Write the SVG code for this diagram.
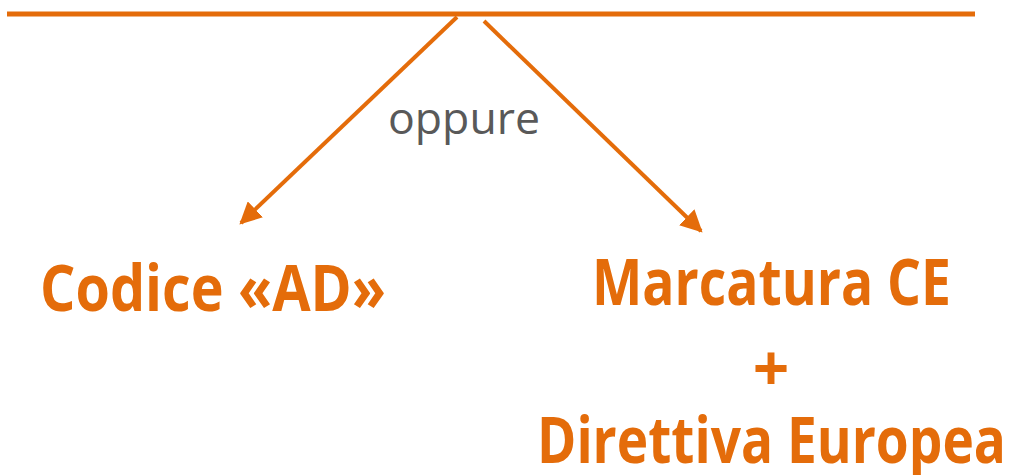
<svg xmlns="http://www.w3.org/2000/svg" width="1012" height="475" viewBox="0 0 1012 475">
<style>
.ln{stroke:#E46C0A;stroke-width:4;fill:none}
.big{font-family:"Open Sans","Liberation Sans",sans-serif;font-weight:bold;fill:#E46C0A;font-size:64px}
.lbl{font-family:"Open Sans","Liberation Sans",sans-serif;fill:#595959;font-size:44px}
</style>
<defs>
<marker id="ah" viewBox="0 0 10 10" refX="9" refY="5" markerWidth="5.5" markerHeight="5.5" orient="auto" markerUnits="strokeWidth">
<path d="M0,0 L10,5 L0,10 z" fill="#E46C0A"/>
</marker>
</defs>
<g id="connectors">
<line class="ln" x1="7" y1="14" x2="975" y2="14" style="stroke-width:5"/>
<line class="ln" x1="457" y1="17" x2="241" y2="223" marker-end="url(#ah)"/>
<line class="ln" x1="484" y1="21" x2="701" y2="231" marker-end="url(#ah)"/>
<text class="lbl" x="464" y="134" text-anchor="middle" textLength="152" lengthAdjust="spacingAndGlyphs">oppure</text>
</g>
<g id="node-codice">
<text class="big" x="40" y="311" textLength="346" lengthAdjust="spacingAndGlyphs">Codice «AD»</text>
</g>
<g id="node-marcatura">
<text class="big" x="592" y="305" textLength="359" lengthAdjust="spacingAndGlyphs">Marcatura CE</text>
<text class="big" x="771" y="391" text-anchor="middle">+</text>
<text class="big" x="537" y="463" textLength="469" lengthAdjust="spacingAndGlyphs">Direttiva Europea</text>
</g>
</svg>
